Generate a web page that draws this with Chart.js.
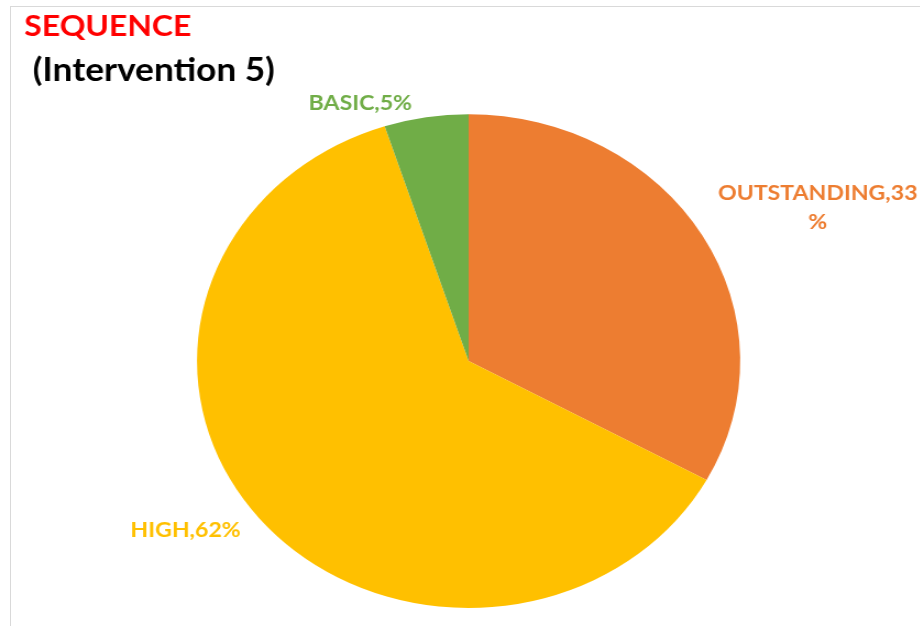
<!DOCTYPE html>
<html>
<head>
<meta charset="utf-8">
<script src="https://cdn.jsdelivr.net/npm/chart.js@4/dist/chart.umd.min.js"></script>
<style>
    html, body { margin: 0; padding: 0; background: #fff; }
    body { width: 920px; height: 626px; position: relative; overflow: hidden; }
    /* the reference is stretched a little wider than tall */
    #wrap { position: absolute; left: 0; top: 0; width: 836px; height: 626px; transform: scaleX(1.1); transform-origin: 0 0; }
    #frame { position: absolute; left: 10px; top: 6px; right: -2px; bottom: -2px; border-left: 1px solid #d9d9d9; border-top: 1px solid #d9d9d9; pointer-events: none; }
</style>
</head>
<body>
<div id="wrap"><canvas id="sequenceChart"></canvas></div>
<div id="frame"></div>
<script>
const categories = ['OUTSTANDING', 'HIGH', 'BASIC'];
const shares = [33, 62, 5];
const sliceColors = ['#ED7D31', '#FFC000', '#70AD47'];

// data labels placed around the pie, like Excel does
const sliceLabels = {
    id: 'sliceLabels',
    afterDatasetsDraw(chart, args, opts) {
        const ctx = chart.ctx;
        const meta = chart.getDatasetMeta(0);
        ctx.save();
        ctx.font = opts.font;
        ctx.textAlign = 'center';
        ctx.textBaseline = 'middle';
        meta.data.forEach((arc, i) => {
            const a = opts.anchors[i];
            const t = (a.angle - 90) * Math.PI / 180;
            const x = arc.x + Math.cos(t) * arc.outerRadius * a.dist;
            const y = arc.y + Math.sin(t) * arc.outerRadius * a.dist;
            const lines = a.split
                ? [categories[i] + ',' + shares[i], '%']
                : [categories[i] + ',' + shares[i] + '%'];
            ctx.fillStyle = sliceColors[i];
            const y0 = y - (lines.length - 1) * opts.lineHeight / 2;
            lines.forEach((ln, k) => ctx.fillText(ln, x, y0 + k * opts.lineHeight));
        });
        ctx.restore();
    }
};

document.addEventListener('DOMContentLoaded', () => {
    const ctx = document.getElementById('sequenceChart').getContext('2d');

    new Chart(ctx, {
        type: 'pie',
        data: {
            labels: categories,
            datasets: [{
                data: shares,
                backgroundColor: sliceColors,
                borderWidth: 0,
                hoverOffset: 0
            }]
        },
        options: {
            responsive: true,
            maintainAspectRatio: false,
            animation: false,
            layout: { padding: { left: 22, right: 6, top: 0, bottom: 18 } },
            plugins: {
                legend: { display: false },
                tooltip: { enabled: false },
                title: {
                    display: true,
                    text: 'SEQUENCE',
                    align: 'start',
                    color: '#FF0000',
                    font: { family: 'Lato', size: 29, weight: 'bold', lineHeight: 1.2 },
                    padding: { top: 9, bottom: 0 }
                },
                subtitle: {
                    display: true,
                    text: ' (Intervention 5)',
                    align: 'start',
                    color: '#000000',
                    font: { family: 'Lato', size: 32, weight: 'bold', lineHeight: 1.2 },
                    padding: { top: 8, bottom: 24 }
                },
                sliceLabels: {
                    font: 'bold 21px Lato',
                    lineHeight: 29,
                    anchors: [
                        { angle: 64.2, dist: 1.428, split: true },
                        { angle: 236.7, dist: 1.247 },
                        { angle: -20.9, dist: 1.118 }
                    ]
                }
            }
        },
        plugins: [sliceLabels]
    });
});
</script>
</body>
</html>
